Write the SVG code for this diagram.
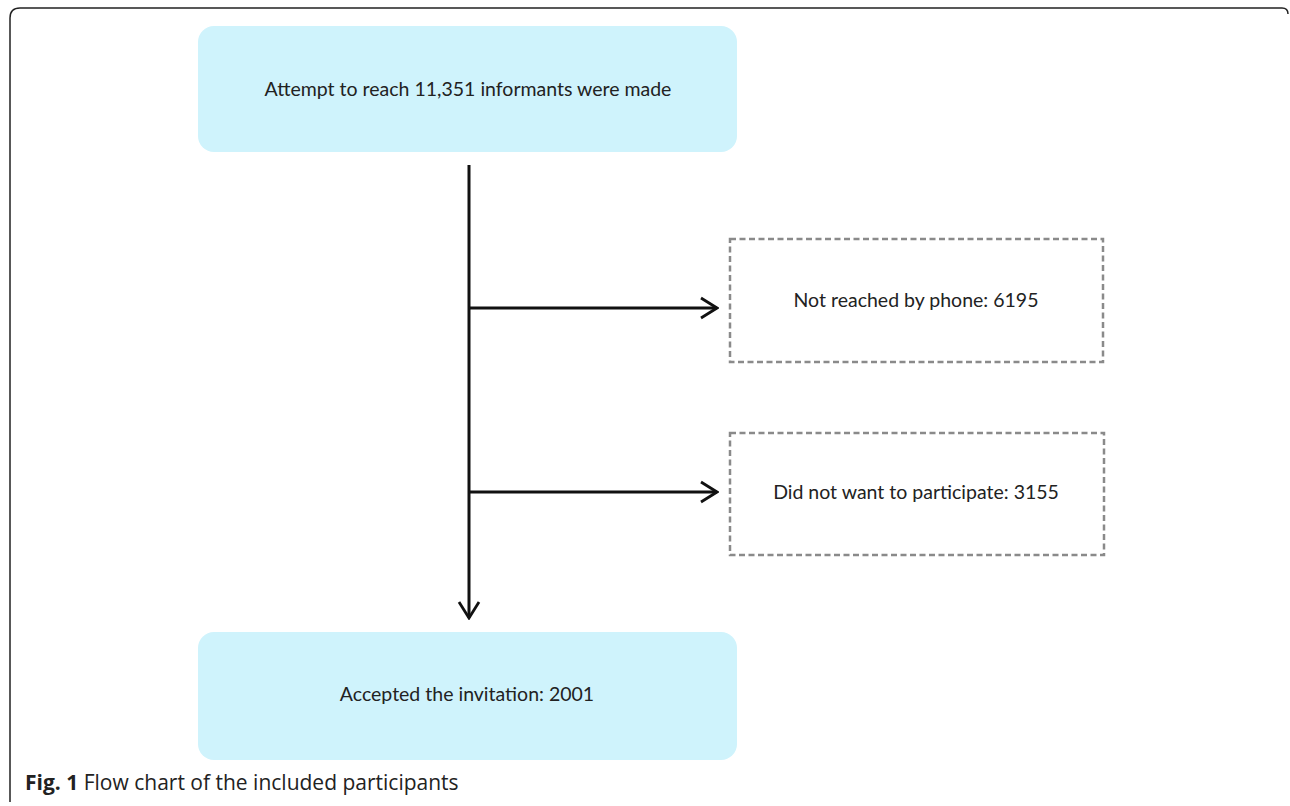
<svg xmlns="http://www.w3.org/2000/svg" width="1290" height="806" viewBox="0 0 1290 806">
<defs>
<style>
.main{fill:#cff3fc;stroke:none}
.dash{fill:#fff;stroke:#8a8a8a;stroke-width:2.5;stroke-dasharray:6 3.5}
.lbl{font-family:Lato,"Open Sans",sans-serif;font-size:19.5px;fill:#222;text-anchor:middle}
.con{stroke:#111;stroke-width:3;fill:none}
.cap{font-family:"Open Sans","Liberation Sans",sans-serif;font-size:21px;fill:#222}
</style>
<marker id="arr" viewBox="0 0 20 24" refX="18" refY="12" markerWidth="20" markerHeight="24" markerUnits="userSpaceOnUse" orient="auto">
<path d="M2,2 L18,12 L2,22" fill="none" stroke="#111" stroke-width="2.8"/>
</marker>
</defs>
<rect width="1290" height="806" fill="#fff"/>
<path d="M10,802 Q10,798 10,796 L10,18 Q10,8 20,8 L1282,8 Q1288,8 1288,14" fill="none" stroke="#222" stroke-width="1.5"/>
<g id="connectors">
<line class="con" x1="469" y1="165" x2="469" y2="618" marker-end="url(#arr)"/>
<line class="con" x1="469" y1="308" x2="717" y2="308" stroke-width="2.2" marker-end="url(#arr)"/>
<line class="con" x1="469" y1="492" x2="717" y2="492" stroke-width="2.2" marker-end="url(#arr)"/>
</g>
<g id="n1">
<rect class="main" x="198" y="26" width="539" height="126" rx="16"/>
<text class="lbl" x="468" y="96">Attempt to reach 11,351 informants were made</text>
</g>
<g id="n2">
<rect class="dash" x="730" y="239" width="373" height="123"/>
<text class="lbl" x="916" y="307">Not reached by phone: 6195</text>
</g>
<g id="n3">
<rect class="dash" x="730" y="433" width="374" height="122"/>
<text class="lbl" x="916" y="499">Did not want to participate: 3155</text>
</g>
<g id="n4">
<rect class="main" x="198" y="632" width="539" height="128" rx="16"/>
<text class="lbl" x="467" y="701">Accepted the invitation: 2001</text>
</g>
<text class="cap" x="25" y="790"><tspan font-weight="bold">Fig. 1</tspan> Flow chart of the included participants</text>
</svg>
